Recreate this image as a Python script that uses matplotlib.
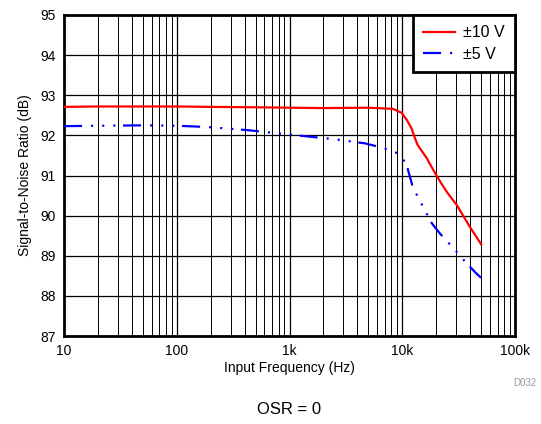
import numpy as np
import matplotlib.pyplot as plt
from matplotlib.ticker import FixedLocator, LogLocator, NullFormatter

plt.rcParams["font.family"] = ["Liberation Sans", "DejaVu Sans"]
plt.rcParams["lines.scale_dashes"] = False

# input frequency (Hz) and SNR (dB)
freq_10v = [10, 20, 50, 100, 200, 500, 1000, 2000, 5000, 8300, 9900, 11000,
            12100, 12800, 13700, 16500, 19000, 22000, 25000, 30500, 40000, 50000]
snr_10v = [92.71, 92.72, 92.72, 92.72, 92.71, 92.70, 92.69, 92.68, 92.69, 92.66,
           92.56, 92.38, 92.17, 91.97, 91.76, 91.43, 91.12, 90.82, 90.58, 90.26,
           89.71, 89.29]

freq_5v = [10, 20, 50, 100, 182, 427, 785, 1380, 2560, 4700, 6900, 8800,
           10800, 12400, 14400, 18300, 21500, 29500, 36500, 45000, 50000]
snr_5v = [92.23, 92.24, 92.25, 92.24, 92.21, 92.13, 92.05, 91.98, 91.90, 91.80,
          91.68, 91.57, 91.32, 90.71, 90.36, 89.81, 89.56, 89.14, 88.84, 88.57, 88.45]

x_ticks = [10, 100, 1000, 10000, 100000]
x_labels = ["10", "100", "1k", "10k", "100k"]
y_ticks = [87, 88, 89, 90, 91, 92, 93, 94, 95]

fig = plt.figure(figsize=(5.41, 4.24), dpi=100)
ax = fig.add_axes([64 / 541, 1 - 336 / 424, 451 / 541, 321 / 424])

ax.plot(freq_10v, snr_10v, color="#ff0000", lw=1.6, label="\u00b110 V", zorder=3)
ax.plot(freq_5v, snr_5v, color="#0000ff", lw=1.6, label="\u00b15 V", zorder=3,
        dashes=(13, 6.5, 1.5, 6.5, 1.5, 6.5, 1.5, 5.5))

ax.set_xscale("log")
ax.set_xlim(10, 100000)
ax.set_ylim(87, 95)
ax.xaxis.set_major_locator(FixedLocator(x_ticks))
ax.set_xticklabels(x_labels)
ax.xaxis.set_minor_locator(LogLocator(base=10, subs=np.arange(2, 10)))
ax.xaxis.set_minor_formatter(NullFormatter())
ax.set_yticks(y_ticks)

ax.grid(True, which="major", color="black", lw=0.9)
ax.grid(True, which="minor", axis="x", color="black", lw=0.7)
ax.tick_params(which="both", length=0, labelsize=10, pad=6)
for s in ax.spines.values():
    s.set_linewidth(2)

ax.set_xlabel("Input Frequency (Hz)", fontsize=10, labelpad=2)
ax.set_ylabel("Signal-to-Noise Ratio (dB)", fontsize=10, labelpad=6)

leg = ax.legend(loc="upper right", borderaxespad=0, fancybox=False,
                fontsize=11.5, handlelength=2.0, handletextpad=0.5,
                labelspacing=0.4, framealpha=1, edgecolor="black",
                borderpad=0.65)
leg.get_frame().set_linewidth(2)

fig.text(525 / 541, 1 - 383 / 424, "D032", fontsize=7, color="#999999",
         ha="center", va="center")
fig.text(289 / 541, 1 - 410 / 424, "OSR = 0", fontsize=12, ha="center", va="center")

fig.savefig("out.png", dpi=100)
